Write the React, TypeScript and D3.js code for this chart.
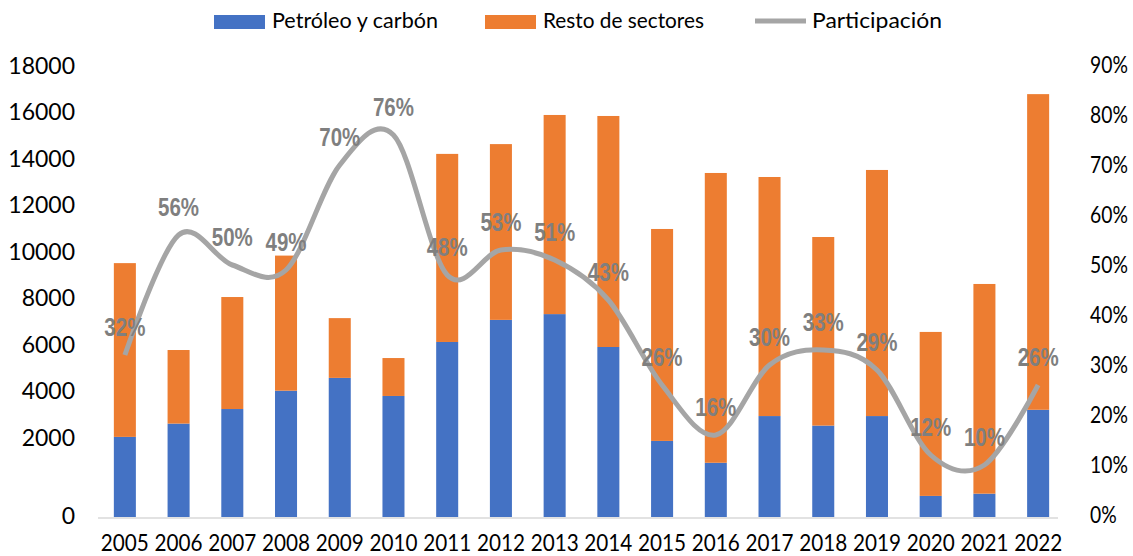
import React from "react";
import * as d3 from "d3";

const years = ["2005","2006","2007","2008","2009","2010","2011","2012","2013","2014","2015","2016","2017","2018","2019","2020","2021","2022"];
const petroleo = [3190,3720,4300,5030,5540,4820,6970,7850,8080,6770,3030,2160,4020,3640,4020,840,930,4270];
const resto = [6920,2930,4460,5380,2380,1510,7490,7000,7930,9200,8440,11540,9520,7510,9800,6530,8350,12570];
const participacion = [32,56,50,49,70,76,48,53,51,43,26,16,30,33,29,12,10,26];
const leftTicks = [0,2000,4000,6000,8000,10000,12000,14000,16000,18000];
const rightTicks = [0,10,20,30,40,50,60,70,80,90];
const seriesNames = ["Petróleo y carbón","Resto de sectores","Participación"];

const BLUE = "#4472c4";
const ORANGE = "#ed7d31";
const GRAY = "#a5a5a5";
const LABEL = "#7f7f7f";
const AXISFONT = "Lato, 'Open Sans', sans-serif";

function T(props: { x: number; y: number; sx?: number; anchor?: string; size: number; weight?: string | number; fill?: string; family?: string; children: any; }) {
  const { x, y, sx = 1, anchor = "start", size, weight = "normal", fill = "#000", family = AXISFONT, children } = props;
  return (
    <text transform={`translate(${x},${y}) scale(${sx},1)`} textAnchor={anchor as any} fontSize={size} fontWeight={weight as any} fill={fill} fontFamily={family}>
      {children}
    </text>
  );
}

export default function App() {
  const W = 1133, H = 556;
  const x = d3.scaleBand<string>().domain(years).range([98, 1065]).paddingInner(0.59).paddingOuter(0.295);
  const y = d3.scaleLinear().domain([0, 18000]).range([517, 65]);
  const yTickPos = d3.scaleLinear().domain([2000, 18000]).range([437, 65.5]);
  const yP = d3.scaleLinear().domain([0, 90]).range([515, 65]);
  const cx = (yr: string) => (x(yr) as number) + x.bandwidth() / 2;

  const rows = years.map((yr, i) => ({ year: yr, p: petroleo[i], r: resto[i] }));
  const stack = d3.stack<any>().keys(["p", "r"])(rows);
  const colors = [BLUE, ORANGE];

  const linePath = d3.line<number>()
    .x((_, i) => cx(years[i]))
    .y((d) => yP(d))
    .curve(d3.curveCatmullRom.alpha(0))(participacion) as string;

  const legend = [
    { name: seriesNames[0], kind: "rect", color: BLUE, sx: 214, tx: 272, tw: 166 },
    { name: seriesNames[1], kind: "rect", color: ORANGE, sx: 485, tx: 543, tw: 161 },
    { name: seriesNames[2], kind: "line", color: GRAY, sx: 755, tx: 812, tw: 130 },
  ];

  return (
    <svg width={W} height={H} style={{ position: "absolute", left: 0, top: 0, display: "block", background: "#fff" }}>
      <rect x={0} y={0} width={W} height={H} fill="#fff" />
      {/* legend */}
      {legend.map((l) => (
        <g key={l.name}>
          {l.kind === "rect"
            ? <rect x={l.sx} y={15} width={51} height={14} fill={l.color} />
            : <line x1={l.sx} x2={l.sx + 51} y1={21} y2={21} stroke={l.color} strokeWidth={5} />}
          <text x={l.tx} y={28} fontSize={22} fontFamily={AXISFONT} fill="#000" textLength={l.tw} lengthAdjust="spacingAndGlyphs">{l.name}</text>
        </g>
      ))}

      {/* bars */}
      {stack.map((s, si) => (
        <g key={si} fill={colors[si]}>
          {s.map((d: any, i: number) => (
            <rect key={i} x={x(years[i])} width={x.bandwidth()} y={y(d[1])} height={y(d[0]) - y(d[1])} />
          ))}
        </g>
      ))}

      {/* axis line */}
      <line x1={98} x2={1058} y1={518} y2={518} stroke="#d9d9d9" strokeWidth={1.5} />

      {/* left ticks */}
      {leftTicks.map((t) => (
        <T key={t} x={75} y={(t === 0 ? y(0) - 2 : yTickPos(t)) + 8.5} anchor="end" size={23}>{String(t)}</T>
      ))}
      {/* right ticks */}
      {rightTicks.map((t) => (
        <T key={t} x={1090} y={yP(t) + 8} size={23} sx={0.84}>{`${t}%`}</T>
      ))}
      {/* x labels */}
      {years.map((yr) => (
        <T key={yr} x={cx(yr)} y={551} anchor="middle" size={23} sx={0.9}>{yr}</T>
      ))}

      {/* line */}
      <path d={linePath} fill="none" stroke={GRAY} strokeWidth={5} strokeLinejoin="round" strokeLinecap="butt" />

      {/* data labels */}
      {participacion.map((v, i) => (
        <T key={i} x={cx(years[i])} y={yP(v) - 19} anchor="middle" size={25} sx={0.82} weight="bold" fill={LABEL} family="'Liberation Sans', Arial, sans-serif">{`${v}%`}</T>
      ))}
    </svg>
  );
}
